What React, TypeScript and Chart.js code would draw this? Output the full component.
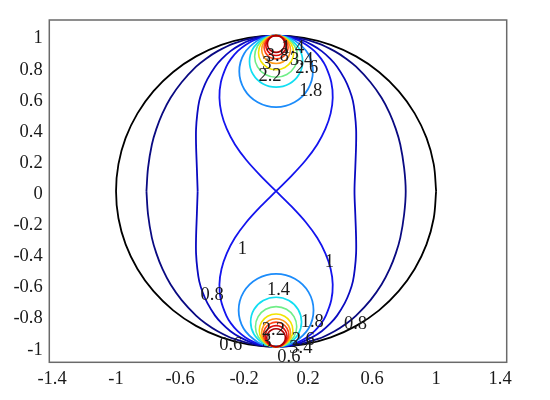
import React, { useEffect, useRef } from "react";
import { Chart, registerables } from "chart.js";
Chart.register(...registerables);

type P = [number, number];

const xTicks = [-1.4, -1, -0.6, -0.2, 0.2, 0.6, 1, 1.4];
const yTicks = [-1, -0.8, -0.6, -0.4, -0.2, 0, 0.2, 0.4, 0.6, 0.8, 1];

// boundary circle (black)
const circlePath: P[] = [
  [1, 0], [0.985, 0.174], [0.94, 0.342], [0.866, 0.5], [0.766, 0.643], [0.643, 0.766], [0.5, 0.866], [0.342, 0.94], [0.174, 0.985], [0, 1],
  [-0.174, 0.985], [-0.342, 0.94], [-0.5, 0.866], [-0.643, 0.766], [-0.766, 0.643], [-0.866, 0.5], [-0.94, 0.342], [-0.985, 0.174], [-1, 0],
  [-0.985, -0.174], [-0.94, -0.342], [-0.866, -0.5], [-0.766, -0.643], [-0.643, -0.766], [-0.5, -0.866], [-0.342, -0.94], [-0.174, -0.985], [0, -1],
  [0.174, -0.985], [0.342, -0.94], [0.5, -0.866], [0.643, -0.766], [0.766, -0.643], [0.866, -0.5], [0.94, -0.342], [0.985, -0.174], [1, 0],
];

// outer navy contour
const navyPath: P[] = [
  [-0.81, 0], [-0.8, 0.15], [-0.776, 0.3], [-0.748, 0.4], [-0.71, 0.5], [-0.659, 0.6], [-0.59, 0.7], [-0.5, 0.8], [-0.44, 0.85], [-0.365, 0.9], [-0.262, 0.95], [-0.12, 0.99], [0, 1],
  [0.12, 0.99], [0.262, 0.95], [0.365, 0.9], [0.44, 0.85], [0.5, 0.8], [0.59, 0.7], [0.659, 0.6], [0.71, 0.5], [0.748, 0.4], [0.776, 0.3], [0.8, 0.15], [0.81, 0],
  [0.8, -0.15], [0.776, -0.3], [0.748, -0.4], [0.71, -0.5], [0.659, -0.6], [0.59, -0.7], [0.5, -0.8], [0.44, -0.85], [0.365, -0.9], [0.262, -0.95], [0.12, -0.99], [0, -1],
  [-0.12, -0.99], [-0.262, -0.95], [-0.365, -0.9], [-0.44, -0.85], [-0.5, -0.8], [-0.59, -0.7], [-0.659, -0.6], [-0.71, -0.5], [-0.748, -0.4], [-0.776, -0.3], [-0.8, -0.15], [-0.81, 0],
];

// dark blue contour
const darkBluePath: P[] = [
  [-0.49, 0], [-0.495, 0.15], [-0.5, 0.3], [-0.5, 0.4], [-0.492, 0.5], [-0.48, 0.58], [-0.459, 0.65], [-0.429, 0.72], [-0.381, 0.8], [-0.339, 0.85], [-0.285, 0.9], [-0.224, 0.94], [-0.161, 0.97], [-0.067, 0.995], [0, 1],
  [0.067, 0.995], [0.161, 0.97], [0.224, 0.94], [0.285, 0.9], [0.339, 0.85], [0.381, 0.8], [0.429, 0.72], [0.459, 0.65], [0.48, 0.58], [0.492, 0.5], [0.5, 0.4], [0.5, 0.3], [0.495, 0.15], [0.49, 0],
  [0.495, -0.15], [0.5, -0.3], [0.5, -0.4], [0.492, -0.5], [0.48, -0.58], [0.459, -0.65], [0.429, -0.72], [0.381, -0.8], [0.339, -0.85], [0.285, -0.9], [0.224, -0.94], [0.161, -0.97], [0.067, -0.995], [0, -1],
  [-0.067, -0.995], [-0.161, -0.97], [-0.224, -0.94], [-0.285, -0.9], [-0.339, -0.85], [-0.381, -0.8], [-0.429, -0.72], [-0.459, -0.65], [-0.48, -0.58], [-0.492, -0.5], [-0.5, -0.4], [-0.5, -0.3], [-0.495, -0.15], [-0.49, 0],
];

// figure-eight contour through the saddle
const eightPath: P[] = [
  [0, 0], [0.098, 0.1], [0.186, 0.2], [0.257, 0.3], [0.308, 0.4], [0.341, 0.5], [0.354, 0.6], [0.345, 0.7], [0.311, 0.8], [0.282, 0.85], [0.24, 0.9], [0.191, 0.94], [0.138, 0.97], [0.059, 0.995], [0, 1],
  [-0.059, 0.995], [-0.138, 0.97], [-0.191, 0.94], [-0.24, 0.9], [-0.282, 0.85], [-0.311, 0.8], [-0.345, 0.7], [-0.354, 0.6], [-0.341, 0.5], [-0.308, 0.4], [-0.257, 0.3], [-0.186, 0.2], [-0.098, 0.1], [0, 0],
  [0.098, -0.1], [0.186, -0.2], [0.257, -0.3], [0.308, -0.4], [0.341, -0.5], [0.354, -0.6], [0.345, -0.7], [0.311, -0.8], [0.282, -0.85], [0.24, -0.9], [0.191, -0.94], [0.138, -0.97], [0.059, -0.995], [0, -1],
  [-0.059, -0.995], [-0.138, -0.97], [-0.191, -0.94], [-0.24, -0.9], [-0.282, -0.85], [-0.311, -0.8], [-0.345, -0.7], [-0.354, -0.6], [-0.341, -0.5], [-0.308, -0.4], [-0.257, -0.3], [-0.186, -0.2], [-0.098, -0.1], [0, 0],
];

// loops around the upper source
const topLoop1: P[] = [[0, 1], [0.04, 0.997], [0.115, 0.969], [0.199, 0.885], [0.23, 0.77], [0.199, 0.655], [0.115, 0.571], [0, 0.54], [-0.115, 0.571], [-0.199, 0.655], [-0.23, 0.77], [-0.199, 0.885], [-0.115, 0.969], [-0.04, 0.997], [0, 1]];
const topLoop2: P[] = [[0, 1], [0.029, 0.998], [0.083, 0.978], [0.144, 0.917], [0.166, 0.834], [0.144, 0.751], [0.083, 0.69], [0, 0.668], [-0.083, 0.69], [-0.144, 0.751], [-0.166, 0.834], [-0.144, 0.917], [-0.083, 0.978], [-0.029, 0.998], [0, 1]];
const topLoop3: P[] = [[0, 1], [0.023, 0.998], [0.067, 0.982], [0.116, 0.933], [0.134, 0.866], [0.116, 0.799], [0.067, 0.75], [0, 0.732], [-0.067, 0.75], [-0.116, 0.799], [-0.134, 0.866], [-0.116, 0.933], [-0.067, 0.982], [-0.023, 0.998], [0, 1]];
const topLoop4: P[] = [[0, 1], [0.019, 0.998], [0.055, 0.985], [0.095, 0.945], [0.11, 0.89], [0.095, 0.835], [0.055, 0.795], [0, 0.78], [-0.055, 0.795], [-0.095, 0.835], [-0.11, 0.89], [-0.095, 0.945], [-0.055, 0.985], [-0.019, 0.998], [0, 1]];
const topLoop5: P[] = [[0, 1], [0.016, 0.999], [0.045, 0.988], [0.078, 0.955], [0.09, 0.91], [0.078, 0.865], [0.045, 0.832], [0, 0.82], [-0.045, 0.832], [-0.078, 0.865], [-0.09, 0.91], [-0.078, 0.955], [-0.045, 0.988], [-0.016, 0.999], [0, 1]];
const topLoop6: P[] = [[0, 1], [0.013, 0.999], [0.038, 0.99], [0.065, 0.962], [0.075, 0.925], [0.065, 0.888], [0.038, 0.86], [0, 0.85], [-0.038, 0.86], [-0.065, 0.888], [-0.075, 0.925], [-0.065, 0.962], [-0.038, 0.99], [-0.013, 0.999], [0, 1]];
const topLoop7: P[] = [[0, 1], [0.011, 0.999], [0.032, 0.991], [0.055, 0.968], [0.064, 0.936], [0.055, 0.904], [0.032, 0.881], [0, 0.872], [-0.032, 0.881], [-0.055, 0.904], [-0.064, 0.936], [-0.055, 0.968], [-0.032, 0.991], [-0.011, 0.999], [0, 1]];
const topLoop8: P[] = [[0, 1], [0.009, 0.999], [0.027, 0.993], [0.047, 0.973], [0.054, 0.946], [0.047, 0.919], [0.027, 0.899], [0, 0.892], [-0.027, 0.899], [-0.047, 0.919], [-0.054, 0.946], [-0.047, 0.973], [-0.027, 0.993], [-0.009, 0.999], [0, 1]];

// loops around the lower source
const botLoop1: P[] = [[0, -1], [0.041, -0.997], [0.117, -0.969], [0.203, -0.883], [0.234, -0.766], [0.203, -0.649], [0.117, -0.563], [0, -0.532], [-0.117, -0.563], [-0.203, -0.649], [-0.234, -0.766], [-0.203, -0.883], [-0.117, -0.969], [-0.041, -0.997], [0, -1]];
const botLoop2: P[] = [[0, -1], [0.028, -0.998], [0.08, -0.979], [0.138, -0.92], [0.159, -0.841], [0.138, -0.761], [0.08, -0.703], [0, -0.682], [-0.08, -0.703], [-0.138, -0.761], [-0.159, -0.841], [-0.138, -0.92], [-0.08, -0.979], [-0.028, -0.998], [0, -1]];
const botLoop3: P[] = [[0, -1], [0.022, -0.998], [0.065, -0.983], [0.112, -0.935], [0.129, -0.871], [0.112, -0.806], [0.065, -0.759], [0, -0.742], [-0.065, -0.759], [-0.112, -0.806], [-0.129, -0.871], [-0.112, -0.935], [-0.065, -0.983], [-0.022, -0.998], [0, -1]];
const botLoop4: P[] = [[0, -1], [0.018, -0.998], [0.053, -0.986], [0.091, -0.947], [0.105, -0.895], [0.091, -0.842], [0.053, -0.804], [0, -0.79], [-0.053, -0.804], [-0.091, -0.842], [-0.105, -0.895], [-0.091, -0.947], [-0.053, -0.986], [-0.018, -0.998], [0, -1]];
const botLoop5: P[] = [[0, -1], [0.016, -0.999], [0.045, -0.988], [0.078, -0.955], [0.09, -0.91], [0.078, -0.865], [0.045, -0.832], [0, -0.82], [-0.045, -0.832], [-0.078, -0.865], [-0.09, -0.91], [-0.078, -0.955], [-0.045, -0.988], [-0.016, -0.999], [0, -1]];
const botLoop6: P[] = [[0, -1], [0.014, -0.999], [0.04, -0.989], [0.068, -0.96], [0.079, -0.921], [0.068, -0.881], [0.04, -0.853], [0, -0.842], [-0.04, -0.853], [-0.068, -0.881], [-0.079, -0.921], [-0.068, -0.96], [-0.04, -0.989], [-0.014, -0.999], [0, -1]];
const botLoop7: P[] = [[0, -1], [0.012, -0.999], [0.034, -0.991], [0.059, -0.966], [0.068, -0.932], [0.059, -0.898], [0.034, -0.873], [0, -0.864], [-0.034, -0.873], [-0.059, -0.898], [-0.068, -0.932], [-0.059, -0.966], [-0.034, -0.991], [-0.012, -0.999], [0, -1]];
const botLoop8: P[] = [[0, -1], [0.01, -0.999], [0.029, -0.992], [0.05, -0.971], [0.058, -0.942], [0.05, -0.913], [0.029, -0.892], [0, -0.884], [-0.029, -0.892], [-0.05, -0.913], [-0.058, -0.942], [-0.05, -0.971], [-0.029, -0.992], [-0.01, -0.999], [0, -1]];

// contour labels
const labelTexts = ["1.4", "3.8", "3", "3.4", "2.6", "2.2", "1.8", "1", "1", "0.8", "1.4", "1.8", "0.8", "2.2", "0.6", "3", "2.6", "3.4", "0.6"];
const labelX = [0.104, 0.008, -0.058, 0.16, 0.192, -0.038, 0.217, -0.21, 0.333, -0.4, 0.015, 0.226, 0.496, -0.017, -0.283, -0.058, 0.17, 0.155, 0.08];
const labelY = [0.921, 0.866, 0.819, 0.844, 0.793, 0.737, 0.64, -0.371, -0.457, -0.671, -0.635, -0.843, -0.854, -0.895, -0.99, -0.97, -0.955, -1.01, -1.07];

const SERIF = "'Liberation Serif', 'Times New Roman', 'DejaVu Serif', serif";

const series: { path: P[]; color: string; width: number }[] = [
  { path: topLoop8, color: "#a80000", width: 1.6 },
  { path: botLoop8, color: "#a80000", width: 1.6 },
  { path: topLoop7, color: "#dc0a0a", width: 1.6 },
  { path: botLoop7, color: "#dc0a0a", width: 1.6 },
  { path: topLoop6, color: "#ff4418", width: 1.6 },
  { path: botLoop6, color: "#ff4418", width: 1.6 },
  { path: topLoop5, color: "#ff9a18", width: 1.6 },
  { path: botLoop5, color: "#ff9a18", width: 1.6 },
  { path: topLoop4, color: "#f2e400", width: 1.6 },
  { path: botLoop4, color: "#f2e400", width: 1.6 },
  { path: topLoop3, color: "#70ee88", width: 1.6 },
  { path: botLoop3, color: "#70ee88", width: 1.6 },
  { path: topLoop2, color: "#12def2", width: 1.7 },
  { path: botLoop2, color: "#12def2", width: 1.7 },
  { path: topLoop1, color: "#1c8cfa", width: 1.8 },
  { path: botLoop1, color: "#1c8cfa", width: 1.8 },
  { path: eightPath, color: "#1414ee", width: 1.8 },
  { path: darkBluePath, color: "#0a0ac0", width: 1.8 },
  { path: navyPath, color: "#0a0a82", width: 1.8 },
  { path: circlePath, color: "#000000", width: 1.8 },
];

const overlay = {
  id: "overlay",
  afterDraw(chart: any) {
    const { ctx, chartArea: a, scales } = chart;
    const xs = scales.x;
    const ys = scales.y;
    ctx.save();
    ctx.strokeStyle = "#6a6a6a";
    ctx.lineWidth = 1.5;
    ctx.strokeRect(a.left, a.top, a.right - a.left, a.bottom - a.top);
    ctx.font = `18.5px ${SERIF}`;
    ctx.fillStyle = "#1a1a1a";
    ctx.textAlign = "center";
    ctx.textBaseline = "middle";
    labelTexts.forEach((t, i) => {
      ctx.fillText(t, xs.getPixelForValue(labelX[i]), ys.getPixelForValue(labelY[i]));
    });
    ctx.restore();
  },
};

export default function App() {
  const ref = useRef<HTMLCanvasElement | null>(null);
  useEffect(() => {
    if (!ref.current) return;
    const chart = new Chart(ref.current, {
      type: "scatter",
      data: {
        datasets: series.map((s) => ({
          data: s.path.map(([x, y]) => ({ x, y })),
          borderColor: s.color,
          backgroundColor: s.color,
          borderWidth: s.width,
          showLine: true,
          tension: 0.36,
          pointRadius: 0,
          pointHoverRadius: 0,
          fill: false,
        })),
      },
      options: {
        responsive: false,
        animation: false,
        devicePixelRatio: 1,
        layout: { padding: { left: 0, top: 20, right: 43.3, bottom: 0 } },
        plugins: { legend: { display: false }, tooltip: { enabled: false } },
        scales: {
          x: {
            type: "linear",
            min: -1.417,
            max: 1.441,
            grid: { display: false, drawTicks: false },
            border: { display: false },
            afterBuildTicks: (s: any) => {
              s.ticks = xTicks.map((v) => ({ value: v }));
            },
            afterFit: (s: any) => {
              s.height = 37.7;
            },
            ticks: {
              autoSkip: false,
              maxRotation: 0,
              padding: 6,
              color: "#1a1a1a",
              font: { family: SERIF, size: 18.5 },
              callback: (v: any) => String(v),
            },
          },
          y: {
            type: "linear",
            min: -1.1,
            max: 1.1,
            grid: { display: false, drawTicks: false },
            border: { display: false },
            afterBuildTicks: (s: any) => {
              s.ticks = yTicks.map((v) => ({ value: v }));
            },
            afterFit: (s: any) => {
              s.width = 49.3;
            },
            ticks: {
              autoSkip: false,
              padding: 6.6,
              labelOffset: 3,
              color: "#1a1a1a",
              font: { family: SERIF, size: 18.5 },
              callback: (v: any) => String(v),
            },
          },
        },
      },
      plugins: [overlay],
    });
    return () => chart.destroy();
  }, []);
  return (
    <div style={{ position: "fixed", left: 0, top: 0, width: 550, height: 400, background: "#fff" }}>
      <canvas ref={ref} width={550} height={400} style={{ width: 550, height: 400, display: "block" }} />
    </div>
  );
}
